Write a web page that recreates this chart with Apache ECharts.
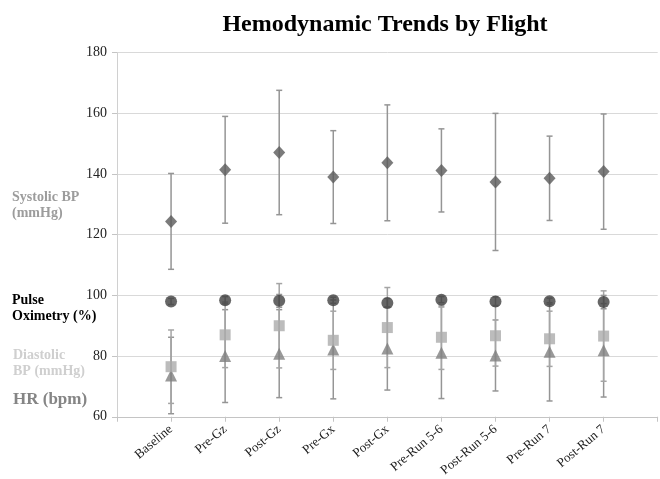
<!DOCTYPE html>
<html>
<head>
<meta charset="utf-8">
<script src="https://cdn.jsdelivr.net/npm/echarts@6/dist/echarts.min.js"></script>
<style>html,body{margin:0;padding:0;background:#fff}#c{width:660px;height:479px}</style>
</head>
<body>
<div id="c"></div>
<script>
var categories = ['Baseline','Pre-Gz','Post-Gz','Pre-Gx','Post-Gx','Pre-Run 5-6','Post-Run 5-6','Pre-Run 7','Post-Run 7'];
var yTicks = [60, 80, 100, 120, 140, 160, 180];

var systolicMean = [124.4, 141.4, 147.1, 139.0, 143.7, 141.2, 137.4, 138.6, 140.8];
var systolicSD   = [15.8, 17.6, 20.5, 15.3, 19.1, 13.7, 22.6, 13.9, 19.0];
var pulseMean    = [98.0, 98.4, 98.2, 98.4, 97.5, 98.6, 98.0, 98.1, 97.8];
var pulseSD      = [1.0, 1.2, 2.1, 1.0, 1.5, 1.0, 1.5, 1.0, 2.2];
var diastolicMean= [76.5, 87.0, 90.0, 85.2, 89.4, 86.2, 86.7, 85.7, 86.6];
var diastolicSD  = [12.1, 10.8, 13.9, 9.6, 13.2, 10.6, 10.0, 9.1, 14.9];
var hrMean       = [73.6, 80.0, 80.8, 82.2, 82.5, 81.1, 80.2, 81.4, 81.9];
var hrSD         = [12.6, 15.3, 14.5, 16.3, 13.7, 15.1, 11.7, 16.2, 15.4];

var FONT = '"Liberation Serif", "Times New Roman", serif';

function pts(mean){ return mean.map(function(v,i){ return [i+1, v]; }); }
function bars(mean, sd){ return mean.map(function(v,i){ return [i+1, v - sd[i], v + sd[i]]; }); }

function errRender(color){
  return function(params, api){
    var x = api.value(0);
    var lo = api.coord([x, api.value(1)]);
    var hi = api.coord([x, api.value(2)]);
    var w = 3;
    var st = {stroke: color, lineWidth: 1.5};
    return {type:'group', children:[
      {type:'line', shape:{x1:lo[0], y1:lo[1], x2:hi[0], y2:hi[1]}, style:st},
      {type:'line', shape:{x1:lo[0]-w, y1:lo[1], x2:lo[0]+w, y2:lo[1]}, style:st},
      {type:'line', shape:{x1:hi[0]-w, y1:hi[1], x2:hi[0]+w, y2:hi[1]}, style:st}
    ]};
  };
}

function errSeries(mean, sd, color){
  return {type:'custom', renderItem: errRender(color), data: bars(mean, sd),
          encode:{x:0, y:[1,2]}, z:2, silent:true, clip:false};
}

var series = [
  errSeries(systolicMean, systolicSD, '#959595'),
  errSeries(hrMean, hrSD, '#959595'),
  errSeries(diastolicMean, diastolicSD, '#a5a5a5'),
  errSeries(pulseMean, pulseSD, '#959595'),
  {type:'scatter', name:'Systolic BP', symbol:'diamond', symbolSize:[12,13], data: pts(systolicMean), itemStyle:{color:'#5a5a5a'}, z:5},
  {type:'scatter', name:'HR', symbol:'triangle', symbolSize:12, data: pts(hrMean), itemStyle:{color:'#808080'}, z:5},
  {type:'scatter', name:'Diastolic BP', symbol:'rect', symbolSize:11, data: pts(diastolicMean), itemStyle:{color:'#ababab'}, z:6},
  {type:'scatter', name:'Pulse Oximetry', symbol:'circle', symbolSize:12, data: pts(pulseMean), itemStyle:{color:'#404040'}, z:7}
];

var chart = echarts.init(document.getElementById('c'), null, {renderer:'canvas'});
chart.setOption({
  animation:false,
  backgroundColor:'#fff',
  title:{text:'Hemodynamic Trends by Flight', left:380, top:8, textAlign:'center',
         textStyle:{fontFamily:FONT, fontSize:24, fontWeight:'bold', color:'#000'}},
  grid:{left:117, right:0, top:52.7, bottom:61.5, containLabel:false},
  xAxis:{type:'value', min:0, max:10, interval:1,
    axisLine:{show:true, lineStyle:{color:'#c4c4c4', width:1}},
    axisTick:{show:true, length:5, lineStyle:{color:'#c4c4c4'}},
    splitLine:{show:false},
    axisLabel:{rotate:40, margin:11, fontFamily:FONT, fontSize:13, color:'#1a1a1a',
      formatter:function(v){ return categories[v-1] || ''; }}
  },
  yAxis:{type:'value', min:yTicks[0], max:yTicks[yTicks.length-1], interval:20,
    axisLine:{show:true, lineStyle:{color:'#d0d0d0', width:1}},
    axisTick:{show:true, length:5, lineStyle:{color:'#c4c4c4'}},
    splitLine:{show:true, lineStyle:{color:'#d9d9d9', width:1}},
    axisLabel:{margin:10, fontFamily:FONT, fontSize:14, color:'#222'}
  },
  graphic:[
    {type:'text', left:12, top:189, style:{text:'Systolic BP\n(mmHg)', font:'bold 14px '+FONT, fill:'#9c9c9c', lineHeight:16.5}},
    {type:'text', left:12, top:292, style:{text:'Pulse\nOximetry (%)', font:'bold 14px '+FONT, fill:'#000', lineHeight:16.5}},
    {type:'text', left:13, top:347, style:{text:'Diastolic\nBP (mmHg)', font:'bold 14px '+FONT, fill:'#cfcfcf', lineHeight:16.5}},
    {type:'text', left:13, top:391, style:{text:'HR (bpm)', font:'bold 17px '+FONT, fill:'#858585', lineHeight:18}}
  ],
  series: series
});
</script>
</body>
</html>
